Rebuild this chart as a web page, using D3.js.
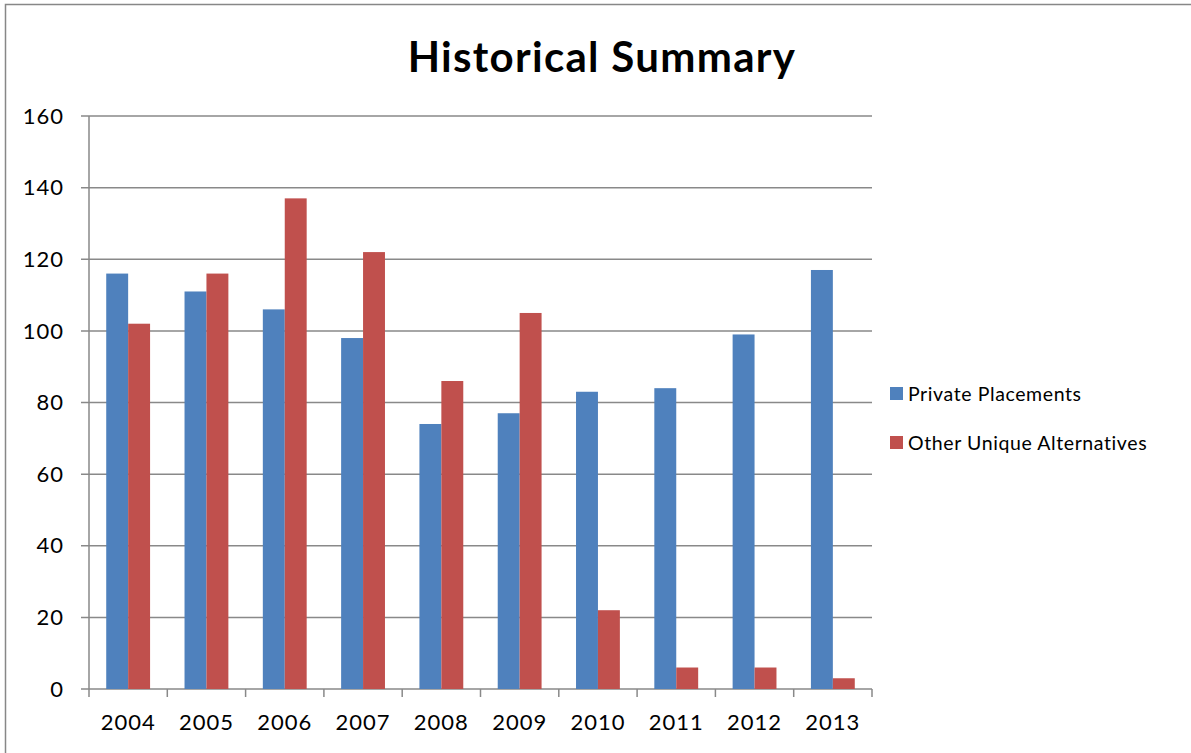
<!DOCTYPE html>
<html>
<head>
<meta charset="utf-8">
<script src="https://cdn.jsdelivr.net/npm/d3@7"></script>
<style>
  body { margin: 0; background: #fff; }
  svg { display: block; font-family: Lato, 'Open Sans', sans-serif; }
</style>
</head>
<body>
<div id="chart"></div>
<script>
const years = ['2004', '2005', '2006', '2007', '2008', '2009', '2010', '2011', '2012', '2013']
const privatePlacements = [116, 111, 106, 98, 74, 77, 83, 84, 99, 117]
const otherAlternatives = [102, 116, 137, 122, 86, 105, 22, 6, 6, 3]
const seriesNames = ['Private Placements', 'Other Unique Alternatives']
const seriesColors = ['#4F81BD', '#C0504D']
const yTicks = [0, 20, 40, 60, 80, 100, 120, 140, 160]

const width = 1191
const height = 753
const margin = { top: 116, right: 319, bottom: 64, left: 89 }
const innerW = width - margin.left - margin.right
const innerH = height - margin.top - margin.bottom

const svg = d3.select('#chart').append('svg')
  .attr('width', width)
  .attr('height', height)

// outer chart border
svg.append('rect')
  .attr('x', 5.5).attr('y', 4.5)
  .attr('width', width + 10).attr('height', height + 10)
  .attr('fill', 'none')
  .attr('stroke', '#878787')
  .attr('stroke-width', 1.5)

svg.append('text')
  .attr('x', 602)
  .attr('y', 72)
  .attr('text-anchor', 'middle')
  .attr('font-size', 42)
  .attr('font-weight', 'bold')
  .attr('letter-spacing', 1.3)
  .attr('fill', '#000')
  .text('Historical Summary')

const g = svg.append('g')
  .attr('transform', `translate(${margin.left}, ${margin.top})`)

const x0 = d3.scaleBand().domain(years).range([0, innerW]).paddingInner(0.44).paddingOuter(0.22)
const xTick = d3.scaleBand().domain(years).range([0, innerW])
const x1 = d3.scaleBand().domain(d3.range(2)).range([0, x0.bandwidth()])
const y = d3.scaleLinear().domain([0, 160]).range([innerH, 0])

// gridlines
g.append('g')
  .selectAll('line')
  .data(yTicks)
  .join('line')
  .attr('x1', -8).attr('x2', innerW)
  .attr('y1', (d) => y(d)).attr('y2', (d) => y(d))
  .attr('stroke', '#898989')
  .attr('stroke-width', 1.5)

// bars
const data = years.map((yr, i) => ({ yr, values: [privatePlacements[i], otherAlternatives[i]] }))

g.append('g')
  .selectAll('g')
  .data(data)
  .join('g')
  .attr('transform', (d) => `translate(${x0(d.yr)}, 0)`)
  .selectAll('rect')
  .data((d) => d.values)
  .join('rect')
  .attr('x', (d, i) => x1(i))
  .attr('y', (d) => y(d))
  .attr('width', x1.bandwidth())
  .attr('height', (d) => innerH - y(d))
  .attr('fill', (d, i) => seriesColors[i])

// y axis line
g.append('line')
  .attr('x1', 0).attr('x2', 0)
  .attr('y1', 0).attr('y2', innerH)
  .attr('stroke', '#898989')
  .attr('stroke-width', 1.5)

// x axis ticks
const xTickPos = years.map((d) => xTick(d)).concat([innerW])
g.append('g')
  .selectAll('line')
  .data(xTickPos)
  .join('line')
  .attr('x1', (d) => d).attr('x2', (d) => d)
  .attr('y1', innerH).attr('y2', innerH + 8)
  .attr('stroke', '#898989')
  .attr('stroke-width', 1.5)

// y labels
g.append('g')
  .selectAll('text')
  .data(yTicks)
  .join('text')
  .attr('x', -25)
  .attr('y', (d) => y(d))
  .attr('dy', '0.35em')
  .attr('text-anchor', 'end')
  .attr('font-size', 22)
  .attr('letter-spacing', 1)
  .attr('fill', '#000')
  .text((d) => d)

// x labels
g.append('g')
  .selectAll('text')
  .data(years)
  .join('text')
  .attr('x', (d) => xTick(d) + xTick.bandwidth() / 2)
  .attr('y', innerH + 41)
  .attr('text-anchor', 'middle')
  .attr('font-size', 22)
  .attr('letter-spacing', 1)
  .attr('fill', '#000')
  .text((d) => d)

// legend
const legend = svg.append('g')
  .attr('transform', 'translate(890, 387)')

const items = legend.selectAll('g')
  .data(seriesNames)
  .join('g')
  .attr('transform', (d, i) => `translate(0, ${i * 49})`)

items.append('rect')
  .attr('width', 13).attr('height', 13)
  .attr('fill', (d, i) => seriesColors[i])

items.append('text')
  .attr('x', 18)
  .attr('y', 7)
  .attr('dy', '0.35em')
  .attr('font-size', 19.5)
  .attr('letter-spacing', 0.6)
  .attr('fill', '#000')
  .text((d) => d)
</script>
</body>
</html>
